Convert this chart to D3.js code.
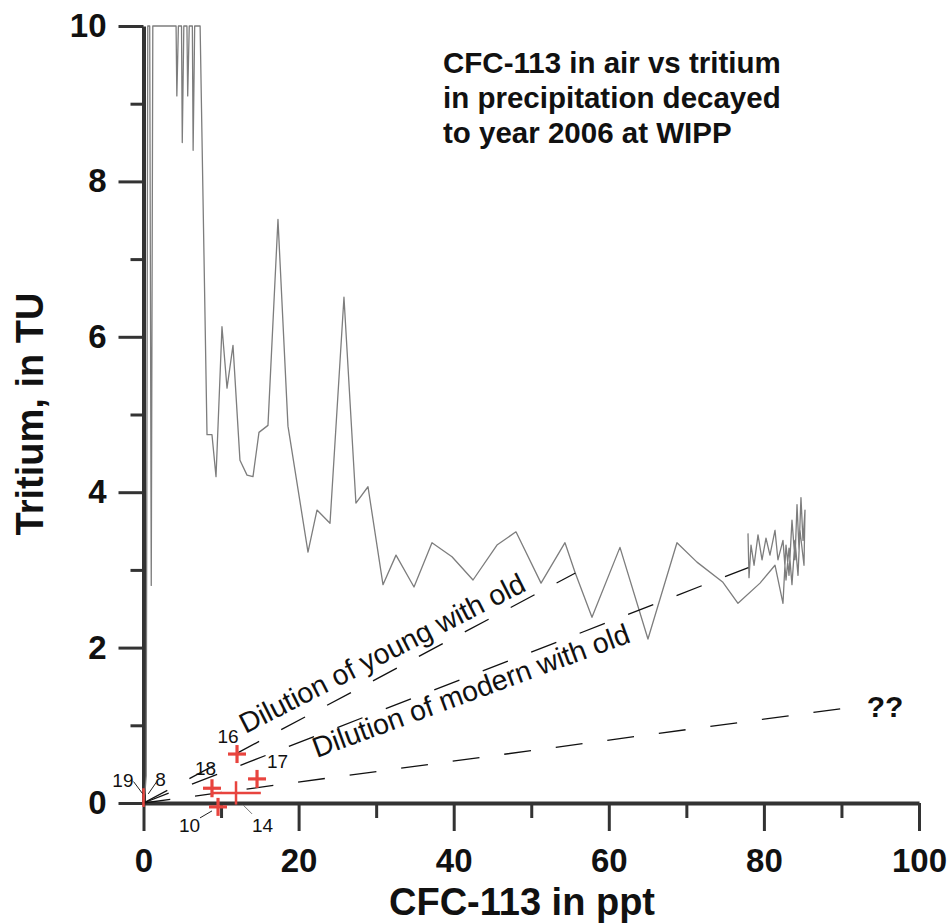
<!DOCTYPE html>
<html><head><meta charset="utf-8">
<script src="https://cdn.jsdelivr.net/npm/d3@7"></script>
<style>body{margin:0;background:#fff} svg{display:block}</style>
</head><body>
<svg id="c" width="950" height="923"></svg>
<script>
// ---- data ----
const curveCFC = [0,0.2,0.35,0.55,0.8,1.0,1.2,1.6,4.2,4.3,4.5,4.9,5.0,5.2,5.6,5.7,5.9,6.3,6.4,6.6,7.3,
  8.19,8.83,9.35,10.12,10.77,11.54,12.44,13.35,14.12,14.89,16.05,17.34,18.63,21.21,22.37,24.05,25.85,27.39,28.95,
  30.88,32.56,34.88,37.20,39.78,42.49,45.58,48.03,51.26,54.35,55.64,57.83,61.44,65.05,68.79,71.37,74.72,76.66,
  79.50,81.43,82.46,82.85,83.24,83.62,84.01,84.27,84.53,84.78,85.04,85.30,85.17,84.65,84.40,84.01,83.62,83.24,
  82.85,82.46,81.81,81.43,80.78,80.27,79.76,79.24,78.73,78.34,78.08,77.95];
const curveTU = [0.02,0.15,0.35,10,10,2.8,10,10,10,9.1,10,10,8.5,10,10,9.1,10,10,8.4,10,10,
  4.74,4.74,4.20,6.13,5.34,5.89,4.41,4.22,4.20,4.77,4.86,7.51,4.85,3.23,3.77,3.60,6.51,3.86,4.07,
  2.81,3.19,2.78,3.35,3.17,2.87,3.32,3.49,2.83,3.35,2.97,2.39,3.29,2.11,3.35,3.10,2.84,2.57,
  2.83,3.06,2.57,3.32,2.93,3.64,3.13,3.84,3.26,3.93,3.38,3.77,3.06,3.51,2.93,3.38,2.81,3.28,
  2.87,3.38,3.13,3.51,3.19,3.41,3.13,3.45,3.06,3.32,2.90,3.47];

const sampleIds  = ["19","8","18","16","17","14","10"];
const sampleCFC  = [0,   0.1, 8.83, 12.06, 14.64, 11.93, 9.61];
const sampleTU   = [0.07,0.04,0.19, 0.63,  0.31,  0.13, -0.05];
const sampleCFCErr = [0, 0, 0, 0, 0, 3.2, 0];
const sampleTUErr  = [0.12, 0, 0, 0, 0, 0.15, 0];

const mixNames  = ["Dilution of young with old", "Dilution of modern with old", "??"];
const mixEndCFC = [55.7, 78.0, 91.2];
const mixEndTU  = [2.96, 3.03, 1.23];

const xTicks = [0,20,40,60,80,100];
const xMinorTicks = [10,30,50,70,90];
const yTicks = [0,2,4,6,8,10];
const yMinorTicks = [1,3,5,7,9];
const titleLines = ["CFC-113 in air vs tritium","in precipitation decayed","to year 2006 at WIPP"];
const xTitle = "CFC-113 in ppt";
const yTitle = "Tritium, in TU";

// ---- drawing ----
const svg = d3.select("#c");
const FONT = "'Liberation Sans', Arial, Helvetica, sans-serif";
const x = d3.scaleLinear().domain([0,100]).range([143.5,919]);
const y = d3.scaleLinear().domain([0,10]).range([803,26]);
const AX = "#333";

// axes
const gx = svg.append("g").attr("transform",`translate(0,${y(0)})`);
gx.call(d3.axisBottom(x).tickValues(xMinorTicks).tickSize(15).tickFormat("").tickSizeOuter(0));
gx.call(g=>g.selectAll(".domain").remove());
const gx2 = svg.append("g").attr("transform",`translate(0,${y(0)})`);
gx2.call(d3.axisBottom(x).tickValues(xTicks).tickSize(28).tickPadding(18).tickSizeOuter(0));
const gy = svg.append("g").attr("transform",`translate(${x(0)},0)`);
gy.call(d3.axisLeft(y).tickValues(yMinorTicks).tickSize(13).tickFormat("").tickSizeOuter(0));
gy.call(g=>g.selectAll(".domain").remove());
const gy2 = svg.append("g").attr("transform",`translate(${x(0)},0)`);
gy2.call(d3.axisLeft(y).tickValues(yTicks).tickSize(25).tickPadding(12).tickSizeOuter(0));
[gx,gx2,gy,gy2].forEach(g=>{
  g.selectAll(".domain").attr("stroke",AX).attr("stroke-width",4);
  g.selectAll(".tick line").attr("stroke",AX).attr("stroke-width",3);
  g.selectAll(".tick text").attr("fill","#111").style("font-family",FONT)
    .style("font-size","33px").style("font-weight","bold");
});

// curve
const pts = curveCFC.map((c,i)=>[c,curveTU[i]]);
svg.append("path").datum(pts)
  .attr("d", d3.line().x(d=>x(d[0])).y(d=>y(d[1])))
  .attr("fill","none").attr("stroke","#7d7d7d").attr("stroke-width",1.3)
  .attr("stroke-linejoin","round");

// mixing lines
mixNames.forEach((nm,i)=>{
  svg.append("line")
    .attr("x1",x(0)).attr("y1",y(0)).attr("x2",x(mixEndCFC[i])).attr("y2",y(mixEndTU[i]))
    .attr("stroke","#111").attr("stroke-width",1.3).attr("stroke-dasharray","27,25");
});
function lineAngle(i){
  return Math.atan2(y(mixEndTU[i])-y(0), x(mixEndCFC[i])-x(0))*180/Math.PI;
}
function onLine(i,c){ return [x(c), y(mixEndTU[i]/mixEndCFC[i]*c)]; }
{
  const p = onLine(0,13.9), a = lineAngle(0)+1;
  svg.append("text").attr("transform",`translate(${p[0]},${p[1]}) rotate(${a})`)
    .attr("y",-13).text(mixNames[0])
    .style("font-family",FONT).style("font-size","28.5px").attr("fill","#111");
  const q = onLine(1,21.4), b = lineAngle(1)+1;
  svg.append("text").attr("transform",`translate(${q[0]},${q[1]}) rotate(${b})`)
    .attr("y",21).text(mixNames[1])
    .style("font-family",FONT).style("font-size","28.5px").attr("fill","#111");
  svg.append("text").attr("x",x(mixEndCFC[2])+16).attr("y",y(mixEndTU[2])+10).text(mixNames[2])
    .style("font-family",FONT).style("font-size","30px").style("font-weight","bold").attr("fill","#111");
}

// samples
const RED = "#e8443e";
const labelOff = {"19":[-10,-11,"end"],"8":[11,-14,"start"],"18":[-17,-13,"start"],"16":[-9,-11,"middle"],
  "17":[10,-11,"start"],"14":[16,39,"start"],"10":[-18,25,"end"]};
const leaderOff = {"19":[[-10,-16],[-1,-4]],"8":[[4,-6],[13,-19]],"14":[[7,12],[16,21]],"10":[[-18,11],[-6,4]]};
sampleIds.forEach((id,i)=>{
  const px = x(sampleCFC[i]), py = y(sampleTU[i]);
  const g = svg.append("g");
  if (sampleCFCErr[i]>0) g.append("line").attr("x1",x(sampleCFC[i]-sampleCFCErr[i])).attr("x2",x(sampleCFC[i]+sampleCFCErr[i]))
      .attr("y1",py).attr("y2",py).attr("stroke",RED).attr("stroke-width",2.5);
  if (sampleTUErr[i]>0) g.append("line").attr("x1",px).attr("x2",px)
      .attr("y1",y(sampleTU[i]-sampleTUErr[i])).attr("y2",y(sampleTU[i]+sampleTUErr[i])).attr("stroke",RED).attr("stroke-width",2.5);
  if (sampleCFCErr[i]===0 && sampleTUErr[i]===0 && id!=="8") {
    g.append("line").attr("x1",px-9).attr("x2",px+9).attr("y1",py).attr("y2",py).attr("stroke",RED).attr("stroke-width",3.2);
    g.append("line").attr("x1",px).attr("x2",px).attr("y1",py-9).attr("y2",py+9).attr("stroke",RED).attr("stroke-width",3.2);
  }
  const lo = labelOff[id];
  g.append("text").attr("x",px+lo[0]).attr("y",py+lo[1]).attr("text-anchor",lo[2]).text(id)
    .style("font-family",FONT).style("font-size","19px").attr("fill","#111");
  if (leaderOff[id]) {
    const L = leaderOff[id];
    g.append("line").attr("x1",px+L[0][0]).attr("y1",py+L[0][1]).attr("x2",px+L[1][0]).attr("y2",py+L[1][1])
      .attr("stroke", id==="14" ? "#777" : "#222").attr("stroke-width",1);
  }
});

// titles
const tt = svg.append("text").attr("x",443).attr("y",73)
  .style("font-family",FONT).style("font-size","29.5px").style("font-weight","bold").attr("fill","#111");
titleLines.forEach((t,i)=>tt.append("tspan").attr("x",443).attr("dy", i===0?0:35).text(t));
svg.append("text").attr("x",522).attr("y",915).attr("text-anchor","middle").text(xTitle)
  .style("font-family",FONT).style("font-size","38px").style("font-weight","bold").attr("fill","#111");
svg.append("text").attr("transform",`translate(43,${414}) rotate(-90)`).attr("text-anchor","middle").text(yTitle)
  .style("font-family",FONT).style("font-size","38px").style("font-weight","bold").attr("fill","#111");
</script>
</body></html>
